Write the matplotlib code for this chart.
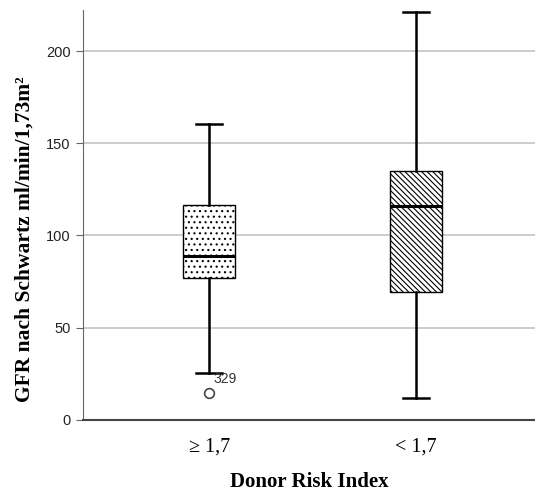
import matplotlib.pyplot as plt
import matplotlib as mpl

groups = ["\u2265 1,7", "< 1,7"]
q1 = [77, 69.5]
med = [89, 116]
q3 = [116.5, 135]
whislo = [25.5, 12]
whishi = [160.5, 221]
fliers = [[14.5], []]
flier_labels = [["329"], []]
hatches = ["...", "\\" * 6]

mpl.rcParams["hatch.linewidth"] = 0.8

fig = plt.figure(figsize=(5.35, 4.94), dpi=100)
ax = fig.add_axes([0.155, 0.15, 0.845, 0.83])

stats = []
for i in range(len(groups)):
    stats.append(dict(med=med[i], q1=q1[i], q3=q3[i], whislo=whislo[i],
                      whishi=whishi[i], fliers=fliers[i], label=groups[i]))

bp = ax.bxp(stats, positions=[1, 2], widths=0.25, patch_artist=True,
            boxprops=dict(linewidth=1.0, edgecolor="black"),
            medianprops=dict(color="black", linewidth=2.2),
            whiskerprops=dict(color="black", linewidth=1.8),
            capprops=dict(color="black", linewidth=1.8),
            capwidths=0.125,
            flierprops=dict(marker="o", markersize=7, markerfacecolor="white",
                            markeredgecolor="#444444", markeredgewidth=1.2))
for patch, h in zip(bp["boxes"], hatches):
    patch.set_facecolor("white")
    patch.set_hatch(h)
    patch.set_edgecolor("black")

for i, (vals, labs) in enumerate(zip(fliers, flier_labels)):
    for v, t in zip(vals, labs):
        ax.text(i + 1 + 0.02, v + 4, t, fontsize=10, family="Liberation Sans",
                color="#333333", va="bottom", ha="left")

ax.set_xlim(0.39, 2.575)
ax.set_ylim(0, 222.3)
ax.set_yticks([0, 50, 100, 150, 200])
ax.yaxis.grid(True, color="#c8c8c8", linewidth=1.3)
ax.set_axisbelow(True)
for s in ["top", "right"]:
    ax.spines[s].set_visible(False)
ax.spines["left"].set_color("#666666")
ax.spines["left"].set_linewidth(0.8)
ax.spines["bottom"].set_color("#444444")
ax.spines["bottom"].set_linewidth(1.5)
ax.tick_params(axis="y", length=5, color="#666666", labelsize=10.5, pad=4,
               labelcolor="#222222")
ax.tick_params(axis="x", length=0, labelsize=14.5, pad=13)
for lab in ax.get_yticklabels():
    lab.set_family("Liberation Sans")
for lab in ax.get_xticklabels():
    lab.set_family("Liberation Serif")

ax.set_ylabel("GFR nach Schwartz ml/min/1,73m\u00b2", family="Liberation Serif",
              fontweight="bold", fontsize=15.5)
ax.yaxis.set_label_coords(-0.108, 0.44)
ax.set_xlabel("Donor Risk Index", family="Liberation Serif",
              fontweight="bold", fontsize=15, labelpad=11)

fig.savefig("out.png", dpi=100)
